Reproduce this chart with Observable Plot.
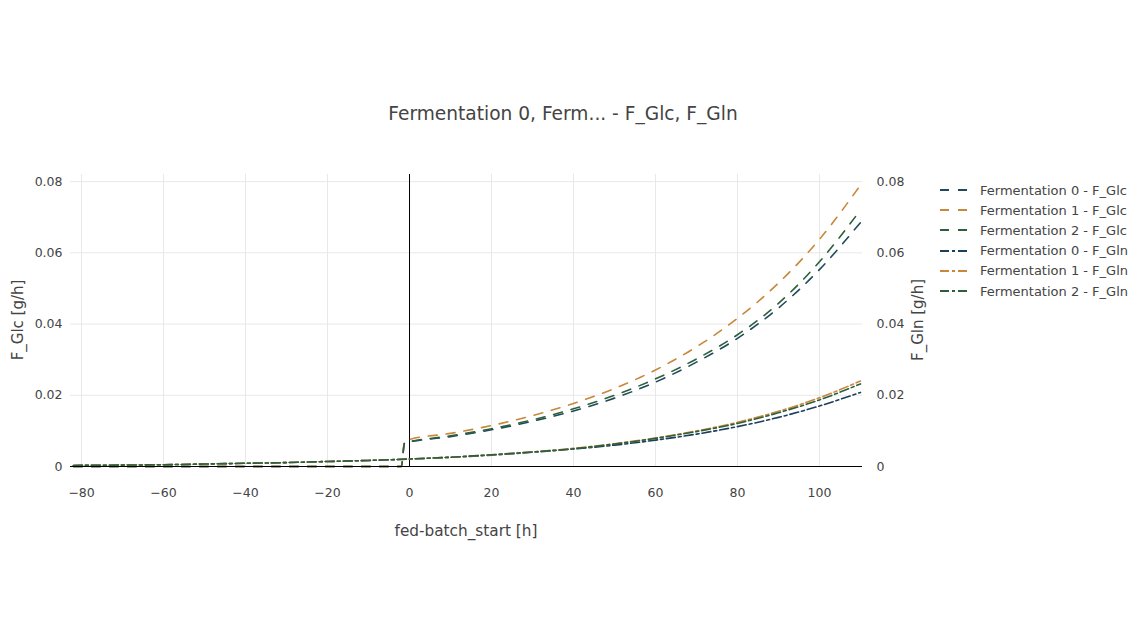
<!DOCTYPE html>
<html>
<head>
<meta charset="utf-8">
<script src="https://cdn.jsdelivr.net/npm/d3@7"></script>
<script src="https://cdn.jsdelivr.net/npm/@observablehq/plot@0.6"></script>
<style>
  html, body { margin: 0; padding: 0; background: #fff; }
  #wrap { position: relative; width: 1140px; height: 640px; font-family: "DejaVu Sans", Verdana, sans-serif; color: #444; }
  #chart { position: absolute; left: 0; top: 0; }
  .t { position: absolute; white-space: nowrap; }
  #title { left: 563px; top: 103px; transform: translateX(-50%); font-size: 18.6px; color: #444; }
  #xlabel { left: 466px; top: 522px; transform: translateX(-50%); font-size: 15.3px; }
  #ylabel { left: 18px; top: 320px; transform: translate(-50%, -50%) rotate(-90deg); font-size: 15px; }
  #y2label { left: 918px; top: 320px; transform: translate(-50%, -50%) rotate(-90deg); font-size: 15px; }
  #legend { position: absolute; left: 940px; top: 180px; font-size: 13px; }
  .row { height: 20.2px; display: flex; align-items: center; }
  .row svg { margin-right: 10px; }
</style>
</head>
<body>
<div id="wrap">
  <div id="chart"></div>
  <div class="t" id="title">Fermentation 0, Ferm... - F_Glc, F_Gln</div>
  <div class="t" id="xlabel">fed-batch_start [h]</div>
  <div class="t" id="ylabel">F_Glc [g/h]</div>
  <div class="t" id="y2label">F_Gln [g/h]</div>
  <div id="legend"></div>
</div>
<script>
// ---- data ----
const seriesNames = [
  "Fermentation 0 - F_Glc", "Fermentation 1 - F_Glc", "Fermentation 2 - F_Glc",
  "Fermentation 0 - F_Gln", "Fermentation 1 - F_Gln", "Fermentation 2 - F_Gln"
];
const seriesColors = ["#1e4a5a", "#c8873a", "#2d5f3c", "#1c3f5c", "#c8873a", "#2d5f3c"];
const seriesDash = ["9,9", "9,9", "9,9", "9,3,3,3", "9,3,3,3", "9,3,3,3"];

const xsGlc = [-82, -70, -60, -50, -40, -30, -20, -10, -2, -1.2, 0, 10, 20, 30, 40, 50, 60, 70, 80, 90, 100, 110];
const glcF0 = [0, 0, 0, 0, 0, 0, 0, 0, 0, 0.0066, 0.0069, 0.0084, 0.0103, 0.0127, 0.0156, 0.0192, 0.0237, 0.0293, 0.0360, 0.0445, 0.0553, 0.0685];
const glcF1 = [0, 0, 0, 0, 0, 0, 0, 0, 0, 0.0072, 0.0076, 0.0093, 0.0115, 0.0143, 0.0177, 0.0219, 0.0271, 0.0336, 0.0416, 0.0515, 0.0638, 0.0790];
const glcF2 = [0, 0, 0, 0, 0, 0, 0, 0, 0, 0.0067, 0.0070, 0.0086, 0.0106, 0.0131, 0.0162, 0.0200, 0.0246, 0.0302, 0.0370, 0.0458, 0.0575, 0.0720];

const xsGln = [-82, -70, -60, -50, -40, -30, -20, -10, 0, 10, 20, 30, 40, 50, 60, 70, 80, 90, 100, 110];
const glnF0 = [0.0003, 0.0004, 0.0005, 0.0007, 0.0009, 0.0011, 0.0014, 0.0017, 0.0021, 0.0026, 0.0032, 0.0040, 0.0049, 0.0060, 0.0074, 0.0091, 0.0112, 0.0138, 0.0170, 0.0208];
const glnF1 = [0.0003, 0.0004, 0.0005, 0.0007, 0.0009, 0.0011, 0.0014, 0.0017, 0.0021, 0.0026, 0.0033, 0.0041, 0.0051, 0.0064, 0.0080, 0.0100, 0.0124, 0.0155, 0.0193, 0.0240];
const glnF2 = [0.0003, 0.0004, 0.0005, 0.0007, 0.0009, 0.0011, 0.0014, 0.0017, 0.0021, 0.0026, 0.0033, 0.0041, 0.0050, 0.0063, 0.0079, 0.0098, 0.0121, 0.0151, 0.0187, 0.0232];

const xTicks = [-80, -60, -40, -20, 0, 20, 40, 60, 80, 100];
const yTicks = [0, 0.02, 0.04, 0.06, 0.08];

// ---- build ----
const allY = [glcF0, glcF1, glcF2, glnF0, glnF1, glnF2];
const allX = [xsGlc, xsGlc, xsGlc, xsGln, xsGln, xsGln];
const tables = allY.map((ys, i) => ys.map((y, j) => ({x: allX[i][j], y})));

const lineMarks = tables.map((t, i) =>
  Plot.line(t, {x: "x", y: "y", stroke: seriesColors[i], strokeWidth: 1.6,
    strokeDasharray: seriesDash[i], curve: "monotone-x"}));

const fmt = d => d === 0 ? "0" : d3.format(".2f")(d);

const chart = Plot.plot({
  width: 1140, height: 640,
  marginLeft: 70, marginRight: 278, marginTop: 174, marginBottom: 174,
  style: {fontFamily: "DejaVu Sans, Verdana, sans-serif", fontSize: "12px", color: "#444", background: "#fff"},
  x: {domain: [-82.7, 110.5]},
  y: {domain: [0, 0.082]},
  marks: [
    Plot.gridX(xTicks, {stroke: "#e8e8e8", strokeOpacity: 1}),
    Plot.gridY(yTicks, {stroke: "#e8e8e8", strokeOpacity: 1}),
    Plot.axisX(xTicks, {tickSize: 0, tickPadding: 22, label: null, fill: "#444", fontSize: 12.5}),
    Plot.axisY(yTicks, {anchor: "left", tickSize: 0, tickPadding: 8, label: null, fill: "#444", fontSize: 12.5, tickFormat: fmt}),
    Plot.axisY(yTicks, {anchor: "right", tickSize: 0, tickPadding: 14, label: null, fill: "#444", fontSize: 12.5, tickFormat: fmt}),
    Plot.ruleX([0], {stroke: "#000", strokeWidth: 1}),
    ...lineMarks,
    Plot.ruleY([0], {stroke: "#000", strokeWidth: 1})
  ]
});
document.getElementById("chart").appendChild(chart);

// legend
const legend = document.getElementById("legend");
seriesNames.forEach((name, i) => {
  const row = document.createElement("div");
  row.className = "row";
  row.innerHTML = `<svg width="30" height="6"><line x1="0" y1="3" x2="30" y2="3" stroke="${seriesColors[i]}" stroke-width="1.8" stroke-dasharray="${seriesDash[i]}"/></svg><span>${name}</span>`;
  legend.appendChild(row);
});
</script>
</body>
</html>
